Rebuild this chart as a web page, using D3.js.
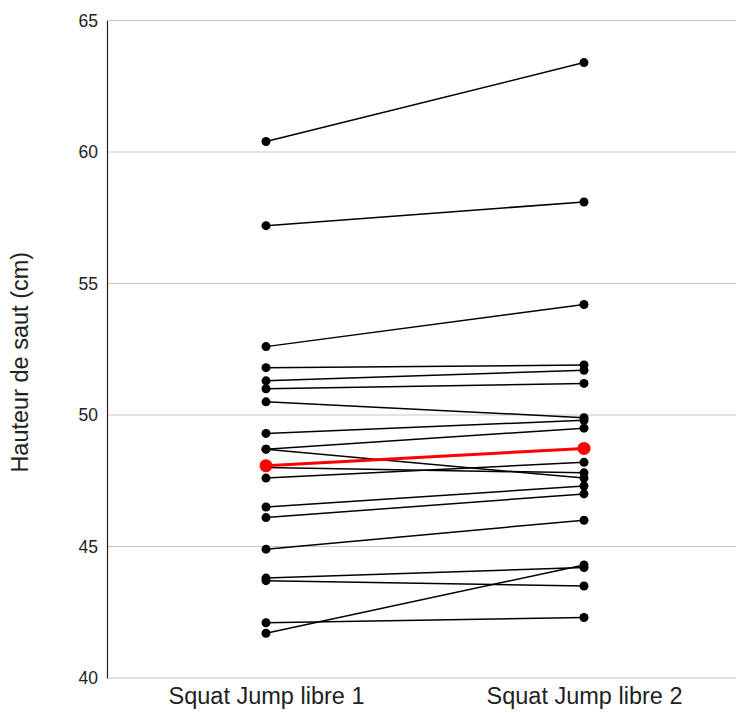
<!DOCTYPE html>
<html><head><meta charset="utf-8">
<script src="https://cdn.jsdelivr.net/npm/d3@7"></script>
<style>body{margin:0;background:#fff;} text{font-family:"Liberation Sans",Arial,sans-serif;}</style>
</head><body><svg id="c" width="736" height="713"></svg>
<script>
const categories = ["Squat Jump libre 1", "Squat Jump libre 2"];
const session1 = [60.4, 57.2, 52.6, 51.8, 51.3, 51.0, 50.5, 49.3, 48.7, 48.7, 48.0, 47.6, 46.5, 46.1, 44.9, 43.8, 43.7, 42.1, 41.7];
const session2 = [63.4, 58.1, 54.2, 51.9, 51.7, 51.2, 49.9, 49.8, 49.5, 47.6, 47.8, 48.2, 47.3, 47.0, 46.0, 44.2, 43.5, 42.3, 44.3];
const highlight = [48.07, 48.73];
const yTicks = [40, 45, 50, 55, 60, 65];
const yLabel = "Hauteur de saut (cm)";

(function () {
const svg = d3.select("#c");
const mLeft = 107, mRight = 736, mTop = 20.5, mBottom = 678;
const y = d3.scaleLinear().domain([40, 65]).range([mBottom, mTop]);
const x = d3.scalePoint().domain(categories).range([266, 584]);

svg.append("g").selectAll("line").data(yTicks).join("line")
  .attr("x1", mLeft).attr("x2", mRight)
  .attr("y1", d => y(d)).attr("y2", d => y(d))
  .attr("stroke", "#c8c8c8").attr("stroke-width", 1);

const yAxis = svg.append("g").attr("transform", `translate(${mLeft},0)`)
  .call(d3.axisLeft(y).tickValues(yTicks).tickSize(0).tickPadding(9).tickFormat(d3.format("d")));
yAxis.select(".domain").attr("stroke", "#222").attr("stroke-width", 1.2);
yAxis.selectAll("text").attr("font-size", 17.5).attr("fill", "#222");

const xAxis = svg.append("g").attr("transform", `translate(0,${mBottom})`)
  .call(d3.axisBottom(x).tickSize(0).tickPadding(9));
xAxis.select(".domain").remove();
xAxis.selectAll("text").attr("font-size", 23.5).attr("fill", "#222");

svg.append("text").attr("transform", `translate(28,${(mTop + mBottom) / 2 + 13}) rotate(-90)`)
  .attr("text-anchor", "middle").attr("font-size", 23.5).attr("fill", "#222").text(yLabel);

const pairs = session1.map((v, i) => [v, session2[i]]);
const g = svg.append("g");
g.selectAll("line.p").data(pairs).join("line")
  .attr("x1", x(categories[0])).attr("x2", x(categories[1]))
  .attr("y1", d => y(d[0])).attr("y2", d => y(d[1]))
  .attr("stroke", "#000").attr("stroke-width", 1.5);
pairs.forEach(p => {
  g.append("circle").attr("cx", x(categories[0])).attr("cy", y(p[0])).attr("r", 4.5).attr("fill", "#000");
  g.append("circle").attr("cx", x(categories[1])).attr("cy", y(p[1])).attr("r", 4.5).attr("fill", "#000");
});
g.append("line").attr("x1", x(categories[0])).attr("x2", x(categories[1]))
  .attr("y1", y(highlight[0])).attr("y2", y(highlight[1]))
  .attr("stroke", "#f00").attr("stroke-width", 3);
highlight.forEach((v, i) => g.append("circle").attr("cx", x(categories[i])).attr("cy", y(v)).attr("r", 6.5).attr("fill", "#f00"));
})();
</script></body></html>
